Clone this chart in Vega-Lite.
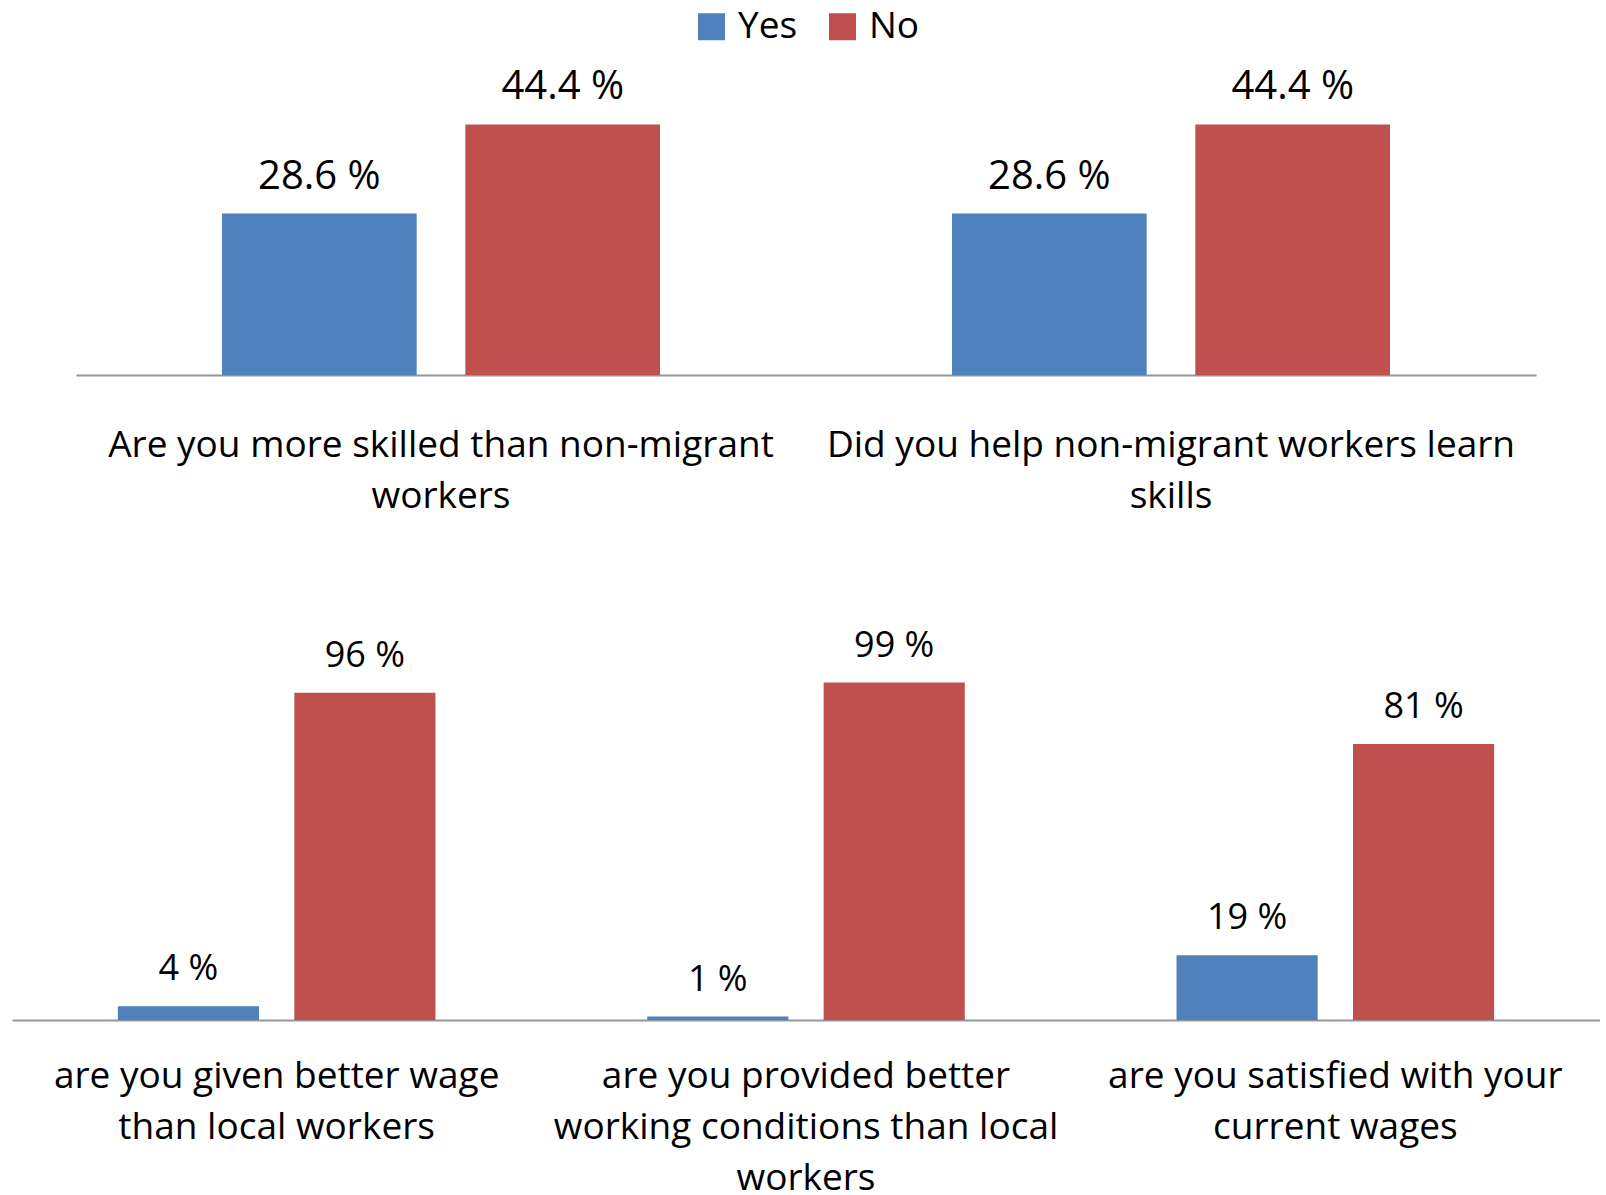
{
  "$schema": "https://vega.github.io/schema/vega-lite/v6.json",
  "padding": {"left": 12, "top": 8, "right": 0, "bottom": 0},
  "background": "white",
  "datasets": {
    "top": [
      {"question": "Are you more skilled than non-migrant|workers", "answer": "Yes", "value": 28.6, "label": "28.6 %"},
      {"question": "Are you more skilled than non-migrant|workers", "answer": "No", "value": 44.4, "label": "44.4 %"},
      {"question": "Did you help non-migrant  workers learn|skills", "answer": "Yes", "value": 28.6, "label": "28.6 %"},
      {"question": "Did you help non-migrant  workers learn|skills", "answer": "No", "value": 44.4, "label": "44.4 %"}
    ],
    "bottom": [
      {"question": "are you given better wage|than local workers", "answer": "Yes", "value": 4, "label": "4 %"},
      {"question": "are you given better wage|than local workers", "answer": "No", "value": 96, "label": "96 %"},
      {"question": "are you provided better|working conditions than local|workers", "answer": "Yes", "value": 1, "label": "1 %"},
      {"question": "are you provided better|working conditions than local|workers", "answer": "No", "value": 99, "label": "99 %"},
      {"question": "are you satisfied with your|current wages", "answer": "Yes", "value": 19, "label": "19 %"},
      {"question": "are you satisfied with your|current wages", "answer": "No", "value": 81, "label": "81 %"}
    ]
  },
  "bounds": "flush",
  "center": true,
  "spacing": 236,
  "resolve": {"scale": {"x": "independent", "xOffset": "independent", "y": "independent"}},
  "vconcat": [
    {
      "width": 1460,
      "height": 316,
      "data": {"name": "top"},
      "encoding": {
        "x": {
          "field": "question", "type": "nominal", "sort": null,
          "scale": {"paddingInner": 0, "paddingOuter": 0},
          "axis": {"labelPadding": 52, "labelExpr": "split(datum.label, '|')"}
        },
        "xOffset": {"field": "answer", "type": "nominal", "sort": ["Yes", "No"], "scale": {"paddingInner": 0.2, "paddingOuter": 0.6}},
        "y": {"field": "value", "type": "quantitative", "scale": {"domain": [0, 56]}, "axis": null}
      },
      "layer": [
        {
          "mark": {"type": "bar"},
          "encoding": {
            "color": {"field": "answer", "type": "nominal", "scale": {"domain": ["Yes", "No"], "range": ["#4F81BD", "#C0504D"]}, "legend": {"title": null}}
          }
        },
        {
          "mark": {"type": "text", "baseline": "middle", "dy": -37, "fontSize": 40, "font": "Open Sans", "color": "black"},
          "encoding": {"text": {"field": "label"}}
        }
      ]
    },
    {
      "width": 1588,
      "height": 409,
      "data": {"name": "bottom"},
      "encoding": {
        "x": {
          "field": "question", "type": "nominal", "sort": null,
          "scale": {"paddingInner": 0, "paddingOuter": 0},
          "axis": {"labelPadding": 38, "labelExpr": "split(datum.label, '|')"}
        },
        "xOffset": {"field": "answer", "type": "nominal", "sort": ["Yes", "No"], "scale": {"paddingInner": 0.2, "paddingOuter": 0.6}},
        "y": {"field": "value", "type": "quantitative", "scale": {"domain": [0, 120]}, "axis": null}
      },
      "layer": [
        {
          "mark": {"type": "bar"},
          "encoding": {
            "color": {"field": "answer", "type": "nominal", "scale": {"domain": ["Yes", "No"], "range": ["#4F81BD", "#C0504D"]}, "legend": {"title": null}}
          }
        },
        {
          "mark": {"type": "text", "baseline": "middle", "dy": -37, "fontSize": 36, "font": "Open Sans", "color": "black"},
          "encoding": {"text": {"field": "label"}}
        }
      ]
    }
  ],
  "config": {
    "view": {"stroke": null},
    "axisX": {
      "title": null, "labelAngle": 0, "ticks": false, "grid": false,
      "domainColor": "#969696", "domainWidth": 2,
      "labelFont": "Open Sans", "labelFontSize": 37, "labelLineHeight": 51,
      "labelColor": "black", "labelLimit": 0, "labelBaseline": "top"
    },
    "legend": {
      "orient": "top", "symbolType": "square", "symbolSize": 729, "symbolStrokeWidth": 0,
      "labelFont": "Open Sans", "labelFontSize": 37, "labelColor": "black",
      "columnPadding": 26, "labelOffset": 8, "offset": 14,
      "layout": {"top": {"anchor": "middle"}}
    }
  }
}
